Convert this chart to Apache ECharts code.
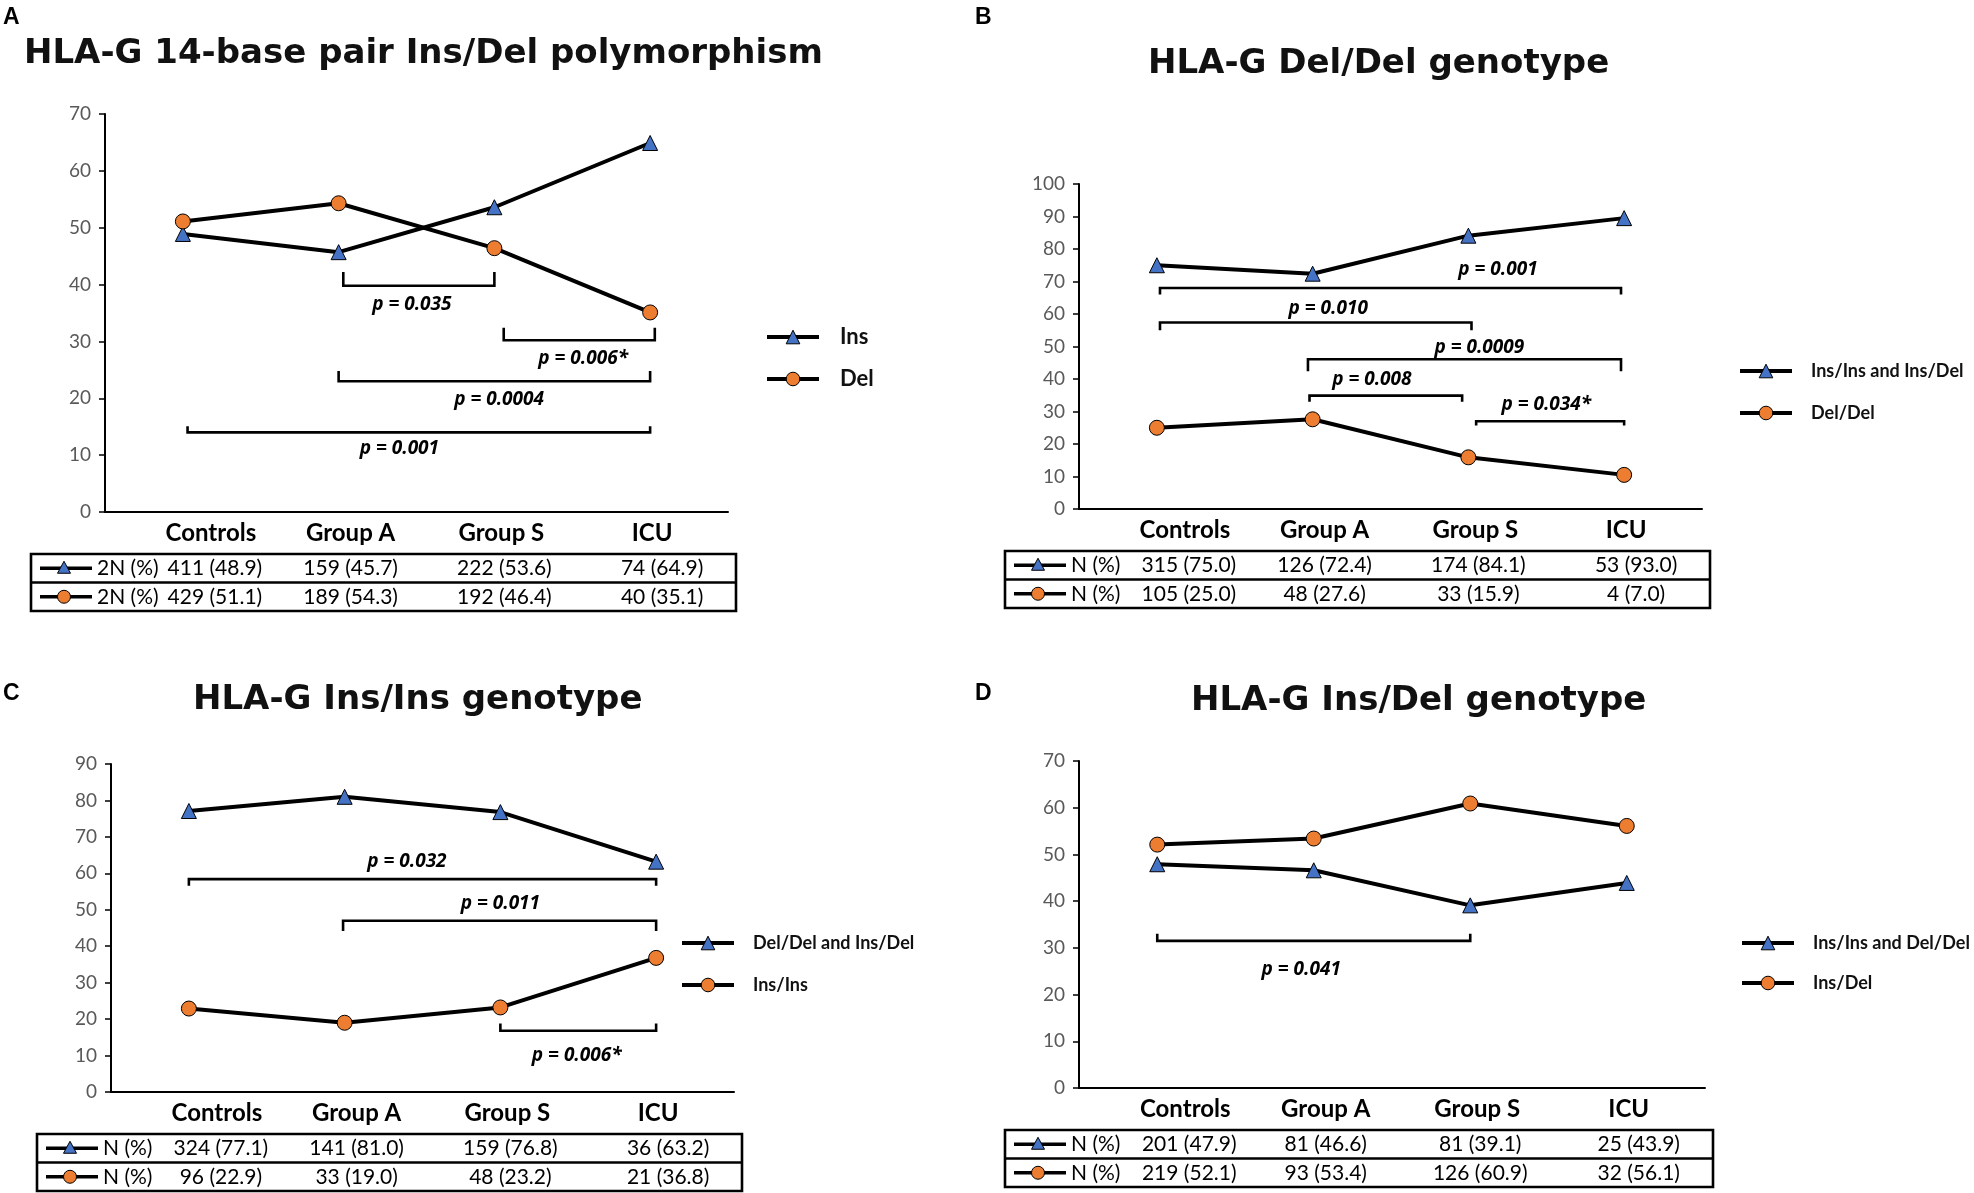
<!DOCTYPE html>
<html lang="en">
<head>
    <meta charset="UTF-8">
    <title>HLA-G 14-bp Ins/Del</title>
    <style>
        html, body { margin: 0; padding: 0; background: #fff; }
        #main { width: 1974px; height: 1193px; }
    </style>
    <script src="https://cdn.jsdelivr.net/npm/echarts@6/dist/echarts.min.js"></script>
</head>
<body>
<div id="main"></div>
<script type="text/javascript">
    // categories and values
    var cats = ['Controls', 'Group A', 'Group S', 'ICU'];

    // A: allele frequencies
    var insA = [48.9, 45.7, 53.6, 64.9];
    var delA = [51.1, 54.3, 46.4, 35.1];
    var insA_n = [411, 159, 222, 74];
    var delA_n = [429, 189, 192, 40];

    // B: Del/Del genotype (ICU point is drawn at ~89.5 / 10.5 in the figure)
    var plotB_top = [75.0, 72.4, 84.1, 89.5];
    var plotB_bot = [25.0, 27.6, 15.9, 10.5];
    var tabB_top_n = [315, 126, 174, 53];
    var tabB_top_p = [75.0, 72.4, 84.1, 93.0];
    var tabB_bot_n = [105, 48, 33, 4];
    var tabB_bot_p = [25.0, 27.6, 15.9, 7.0];

    // C: Ins/Ins genotype
    var topC = [77.1, 81.0, 76.8, 63.2];
    var botC = [22.9, 19.0, 23.2, 36.8];
    var topC_n = [324, 141, 159, 36];
    var botC_n = [96, 33, 48, 21];

    // D: Ins/Del genotype
    var topD = [47.9, 46.6, 39.1, 43.9];
    var botD = [52.1, 53.4, 60.9, 56.1];
    var topD_n = [201, 81, 81, 25];
    var botD_n = [219, 93, 126, 32];

    // brackets: [from, to, lineValue, tickEndValue]
    var bracketsA = [[1.03, 2.0, 39.8, 42.2], [2.06, 3.03, 30.2, 32.4], [1.0, 3.0, 23.0, 24.8], [0.03, 3.0, 14.0, 15.1]];
    var pLabelsA = [[1.47, 36.5, 'p = 0.035'], [2.57, 27.0, 'p = 0.006*'], [2.03, 19.8, 'p = 0.0004'], [1.39, 11.1, 'p = 0.001']];
    var bracketsB = [[0.02, 2.98, 68.0, 66.0], [0.02, 2.02, 57.4, 55.0], [0.97, 2.98, 46.1, 42.4], [0.98, 1.96, 34.9, 33.0], [2.05, 3.0, 27.0, 25.7]];
    var pLabelsB = [[2.19, 73.6, 'p = 0.001'], [1.1, 61.8, 'p = 0.010'], [2.07, 49.8, 'p = 0.0009'], [1.38, 39.8, 'p = 0.008'], [2.5, 32.2, 'p = 0.034*']];
    var bracketsC = [[0.0, 3.0, 58.4, 56.6], [0.99, 3.0, 47.0, 44.2], [2.0, 3.0, 16.8, 18.8]];
    var pLabelsC = [[1.4, 63.1, 'p = 0.032'], [2.0, 51.8, 'p = 0.011'], [2.49, 9.9, 'p = 0.006*']];
    var bracketsD = [[0.0, 2.0, 31.5, 33.0]];
    var pLabelsD = [[0.92, 25.4, 'p = 0.041']];

    function fmt(n, p) { return n + ' (' + p.toFixed(1) + ')'; }

    var BLUE = '#4472C4', ORANGE = '#ED7D31';
    var LBL = 'Lato, "Open Sans", sans-serif';

    var panels = [
        {
            letter: 'A', letterPos: [3, 6],
            title: 'HLA-G 14-base pair Ins/Del polymorphism', titlePos: [24, 37],
            grid: {left: 105, top: 114, width: 623, height: 398}, max: 70,
            names: ['Ins', 'Del'], top: insA, bot: delA,
            legend: {left: 765, top: 326, gap: 20, size: 22, pad: 16},
            rowLabel: '2N (%)',
            rows: [insA_n.map(function (n, i) { return fmt(n, insA[i]); }),
                   delA_n.map(function (n, i) { return fmt(n, delA[i]); })],
            brackets: bracketsA, pLabels: pLabelsA
        },
        {
            letter: 'B', letterPos: [975, 6],
            title: 'HLA-G Del/Del genotype', titlePos: [1148, 47],
            grid: {left: 1079, top: 184, width: 623, height: 325}, max: 100,
            names: ['Ins/Ins and Ins/Del', 'Del/Del'], top: plotB_top, bot: plotB_bot,
            legend: {left: 1738, top: 362, gap: 24, size: 18, pad: 14},
            rowLabel: 'N (%)',
            rows: [tabB_top_n.map(function (n, i) { return fmt(n, tabB_top_p[i]); }),
                   tabB_bot_n.map(function (n, i) { return fmt(n, tabB_bot_p[i]); })],
            brackets: bracketsB, pLabels: pLabelsB
        },
        {
            letter: 'C', letterPos: [3, 682],
            title: 'HLA-G Ins/Ins genotype', titlePos: [193, 683],
            grid: {left: 111, top: 764, width: 623, height: 328}, max: 90,
            names: ['Del/Del and Ins/Del', 'Ins/Ins'], top: topC, bot: botC,
            legend: {left: 680, top: 934, gap: 24, size: 18, pad: 14},
            rowLabel: 'N (%)',
            rows: [topC_n.map(function (n, i) { return fmt(n, topC[i]); }),
                   botC_n.map(function (n, i) { return fmt(n, botC[i]); })],
            brackets: bracketsC, pLabels: pLabelsC
        },
        {
            letter: 'D', letterPos: [975, 682],
            title: 'HLA-G Ins/Del genotype', titlePos: [1191, 684],
            grid: {left: 1079, top: 761, width: 626, height: 327}, max: 70,
            names: ['Ins/Ins and Del/Del', 'Ins/Del'], top: topD, bot: botD,
            legend: {left: 1740, top: 934, gap: 22, size: 18, pad: 14},
            rowLabel: 'N (%)',
            rows: [topD_n.map(function (n, i) { return fmt(n, topD[i]); }),
                   botD_n.map(function (n, i) { return fmt(n, botD[i]); })],
            brackets: bracketsD, pLabels: pLabelsD
        }
    ];

    // category labels sit a little right of the points in the original
    var labelShift = [56, 24, 14, 4];
    var catRich = {};
    labelShift.forEach(function (s, i) {
        catRich['c' + i] = {padding: [0, 0, 0, s], fontFamily: LBL, fontWeight: 'bold', fontSize: 24, color: '#000'};
    });
    var colShift = [32, 12, 10, 12];

    var option = {
        animation: false,
        backgroundColor: '#fff',
        title: [], legend: [], grid: [], xAxis: [], yAxis: [], series: [], graphic: []
    };

    panels.forEach(function (p, i) {
        var g = p.grid;
        option.grid.push({left: g.left, top: g.top, width: g.width, height: g.height, containLabel: false});
        option.title.push({
            text: p.title, left: p.titlePos[0], top: p.titlePos[1], padding: 0,
            textStyle: {fontFamily: '"DejaVu Sans", sans-serif', fontWeight: 'bold', fontSize: 34, color: '#111'}
        });
        option.legend.push({
            orient: 'vertical', left: p.legend.left, top: p.legend.top, padding: 0,
            itemWidth: 52, itemHeight: 17, itemGap: p.legend.gap,
            data: p.names, selectedMode: false,
            lineStyle: {width: 'inherit', color: '#000'},
            itemStyle: {borderWidth: 1, borderColor: '#000'},
            textStyle: {fontFamily: LBL, fontWeight: 'bold', fontSize: p.legend.size, color: '#111', padding: [0, 0, 0, p.legend.pad]}
        });
        option.xAxis.push({
            type: 'category', gridIndex: i, data: cats, boundaryGap: true,
            axisLine: {onZero: false, lineStyle: {color: '#000', width: 2}},
            axisTick: {show: false},
            axisLabel: {
                margin: 9,
                formatter: function (v, idx) { return '{c' + idx + '|' + v + '}'; },
                rich: catRich
            }
        });
        option.xAxis.push({type: 'value', gridIndex: i, min: -0.5, max: 3.5, show: false});
        option.yAxis.push({
            type: 'value', gridIndex: i, min: 0, max: p.max, interval: 10,
            axisLine: {show: true, onZero: false, lineStyle: {color: '#000', width: 2}},
            axisTick: {show: true, length: 6, lineStyle: {color: '#000', width: 1.5}},
            splitLine: {show: false},
            axisLabel: {margin: 14, fontFamily: LBL, fontSize: 19, color: '#595959'}
        });

        option.series.push({
            type: 'line', name: p.names[0], xAxisIndex: 2 * i, yAxisIndex: i, data: p.top,
            symbol: 'triangle', symbolSize: 15, z: 4,
            lineStyle: {color: '#000', width: 4},
            itemStyle: {color: BLUE, borderColor: '#000', borderWidth: 1}
        });
        option.series.push({
            type: 'line', name: p.names[1], xAxisIndex: 2 * i, yAxisIndex: i, data: p.bot,
            symbol: 'circle', symbolSize: 15, z: 4,
            lineStyle: {color: '#000', width: 4},
            itemStyle: {color: ORANGE, borderColor: '#000', borderWidth: 1}
        });
        // significance brackets
        option.series.push({
            type: 'custom', xAxisIndex: 2 * i + 1, yAxisIndex: i, silent: true, z: 3,
            data: p.brackets, encode: {x: [0, 1], y: [2, 3]},
            renderItem: function (params, api) {
                var a = api.coord([api.value(0), api.value(3)]);
                var b = api.coord([api.value(0), api.value(2)]);
                var c = api.coord([api.value(1), api.value(2)]);
                var d = api.coord([api.value(1), api.value(3)]);
                return {type: 'polyline', shape: {points: [a, b, c, d]},
                        style: {stroke: '#000', lineWidth: 2.6, fill: null}};
            }
        });
        option.series.push({
            type: 'custom', xAxisIndex: 2 * i + 1, yAxisIndex: i, silent: true, z: 3,
            data: p.pLabels.map(function (l) { return [l[0], l[1]]; }),
            renderItem: function (params, api) {
                var pt = api.coord([api.value(0), api.value(1)]);
                return {type: 'text', x: pt[0], y: pt[1],
                        style: {text: p.pLabels[params.dataIndex][2], fill: '#000',
                                font: 'italic bold 19px "Open Sans", sans-serif',
                                align: 'center', verticalAlign: 'middle'}};
            }
        });

        // panel letter
        option.graphic.push({type: 'text', left: p.letterPos[0], top: p.letterPos[1],
            style: {text: p.letter, font: 'bold 23px "Liberation Sans", Arial, sans-serif', fill: '#000'}});

        // data table under the axis
        var boxL = g.left - 74, boxR = g.left + g.width + 8;
        var boxT = g.top + g.height + 42, rowH = 28.5;
        option.graphic.push({type: 'rect', shape: {x: boxL, y: boxT, width: boxR - boxL, height: rowH * 2},
            style: {fill: null, stroke: '#000', lineWidth: 2.6}});
        option.graphic.push({type: 'line', shape: {x1: boxL, y1: boxT + rowH, x2: boxR, y2: boxT + rowH},
            style: {stroke: '#000', lineWidth: 2.6}});
        p.rows.forEach(function (row, r) {
            var cy = boxT + rowH * (r + 0.5);
            var mx = boxL + 33;
            option.graphic.push({type: 'line', shape: {x1: boxL + 9, y1: cy, x2: boxL + 61, y2: cy},
                style: {stroke: '#000', lineWidth: 3.5}});
            if (r === 0) {
                option.graphic.push({type: 'polygon', shape: {points: [[mx, cy - 7], [mx - 6.5, cy + 5], [mx + 6.5, cy + 5]]},
                    style: {fill: BLUE, stroke: '#000', lineWidth: 1}});
            } else {
                option.graphic.push({type: 'circle', shape: {cx: mx, cy: cy, r: 6.5},
                    style: {fill: ORANGE, stroke: '#000', lineWidth: 1}});
            }
            option.graphic.push({type: 'text', x: boxL + 66, y: cy,
                style: {text: p.rowLabel, font: '21px ' + LBL, fill: '#000', verticalAlign: 'middle', align: 'left'}});
            row.forEach(function (txt, k) {
                var cx = g.left + (k + 0.5) * g.width / 4 + colShift[k];
                option.graphic.push({type: 'text', x: cx, y: cy,
                    style: {text: txt, font: '21px ' + LBL, fill: '#000', verticalAlign: 'middle', align: 'center'}});
            });
        });
    });

    var myChart = echarts.init(document.getElementById('main'));
    myChart.setOption(option);
</script>
</body>
</html>
